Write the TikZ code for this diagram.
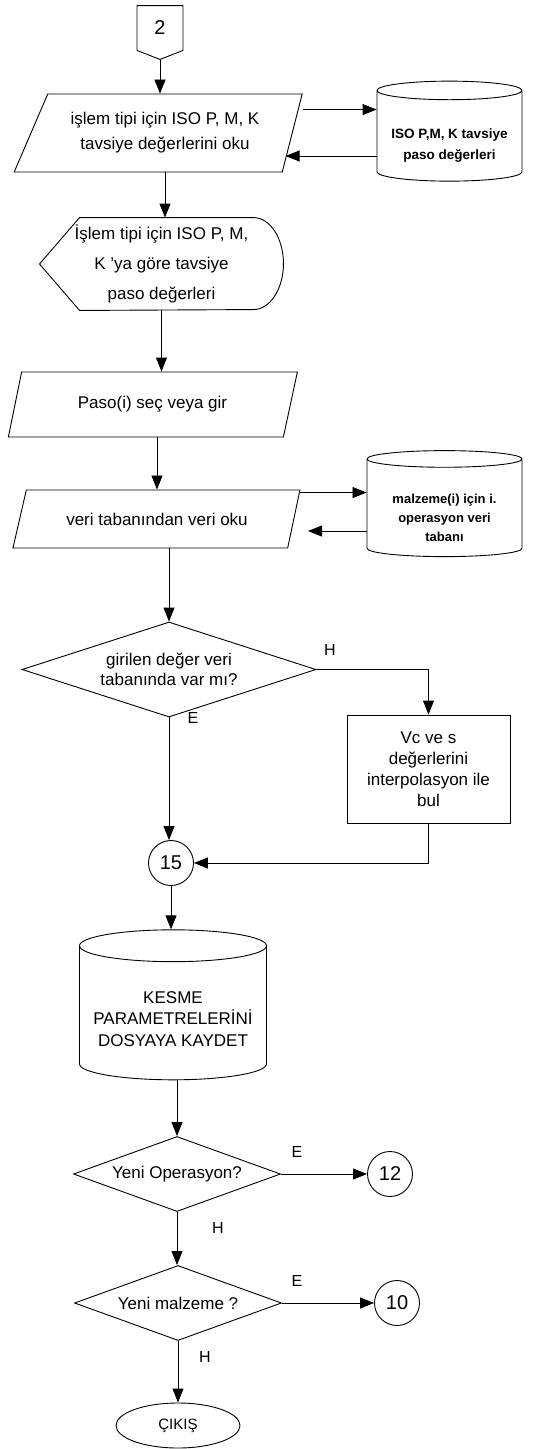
\documentclass[tikz,border=0pt]{standalone}
\usepackage{fontspec}
\setmainfont{Liberation Sans}
\usetikzlibrary{arrows.meta}
\usetikzlibrary{shapes.geometric}
\usetikzlibrary{shapes.symbols}
\tikzset{
	>={Triangle[length=14pt,width=11pt]},
	flow/.style={draw, inner sep=0pt, align=center, font=\fontsize{17}{21}\selectfont},
	io/.style={flow, trapezium, trapezium stretches body=true},
	db/.style={flow, cylinder, shape border rotate=90, font=\fontsize{13.5}{21}\selectfont\bfseries},
	decision/.style={flow, diamond},
	conn/.style={flow, circle, minimum size=45pt, font=\fontsize{20}{24}\selectfont},
	lbl/.style={font=\fontsize{16}{18}\selectfont}
}
% metni silindir govdesinde asagi kaydirir
\newcommand{\lowtext}[2]{\raisebox{#1}[0pt][0pt]{\begin{tabular}{@{}c@{}}#2\end{tabular}}}

\begin{document}
\begin{tikzpicture}[x=1pt, y=-1pt, line width=0.9pt]
	\useasboundingbox (0,0) rectangle (534,1449);

	% giris baglantisi
	\node[flow, signal, signal to=south, signal pointer angle=137, minimum width=46pt, minimum height=47pt, font=\fontsize{20}{24}\selectfont] (c2) at (160,28) {2};

	\node[io, trapezium left angle=50.6, trapezium right angle=116, minimum width=288pt, minimum height=78pt, font=\fontsize{17}{25}\selectfont] (p1) at (165,133) {işlem tipi için ISO P, M, K\\tavsiye değerlerini oku};
	\node[db, aspect=0.16, minimum width=145pt, minimum height=100pt] (cyl1) at (449.5,136) {\lowtext{-12.5pt}{ISO P,M, K tavsiye\\paso değerleri}};

	% ekran sekli
	\node[inner sep=0pt, minimum width=243pt, minimum height=92pt, align=center, font=\fontsize{17}{30}\selectfont] (disp) at (161.5,264) {İşlem tipi için ISO P, M,\\K 'ya göre tavsiye\\paso değerleri};
	\draw (disp.west) -- ([xshift=40pt]disp.north west) -- ([xshift=-30pt]disp.north east)
		arc[start angle=90, end angle=-90, x radius=30pt, y radius=46pt]
		-- ([xshift=40pt]disp.south west) -- cycle;

	\node[io, trapezium left angle=50.3, trapezium right angle=131.3, minimum width=289pt, minimum height=65pt] (p2) at (152.5,404.5) {Paso(i) seç veya gir};

	\node[io, trapezium left angle=43, trapezium right angle=134.5, minimum width=287pt, minimum height=58pt] (p3) at (157,519) {veri tabanından veri oku};
	\node[db, aspect=0.16, minimum width=155pt, minimum height=106pt, font=\fontsize{13}{19}\selectfont\bfseries] (cyl2) at (444.5,508) {\lowtext{-14pt}{malzeme(i) için i.\\operasyon veri\\tabanı}};

	\node[decision, aspect=3.1, minimum width=294pt, minimum height=95pt, font=\fontsize{17}{20}\selectfont] (d1) at (169,669.5) {girilen değer veri\\tabanında var mı?};
	\node[flow, rectangle, minimum width=163pt, minimum height=108pt] (box) at (428.5,769) {Vc ve s\\değerlerini\\interpolasyon ile\\bul};
	\node[conn] (c15) at (171,863) {15};

	\node[db, aspect=0.2, minimum width=187pt, minimum height=150pt, font=\fontsize{17}{21.5}\selectfont] (cyl3) at (173,1013) {\lowtext{-12pt}{KESME\\PARAMETRELERİNİ\\DOSYAYA KAYDET}};

	\node[decision, aspect=2.76, minimum width=207pt, minimum height=75pt] (d2) at (177,1174) {Yeni Operasyon?};
	\node[conn] (c12) at (390,1174) {12};
	\node[decision, aspect=2.76, minimum width=207pt, minimum height=75pt] (d3) at (178,1303) {Yeni malzeme ?};
	\node[conn] (c10) at (397,1303) {10};
	\node[flow, ellipse, minimum width=124pt, minimum height=45pt, font=\fontsize{15}{18}\selectfont] (exit) at (178,1425.5) {ÇIKIŞ};

	% baglantilar
	\draw[->] (c2.south) -- (c2.south |- p1.north);
	\draw[->] (p1.south) -- (p1.south |- disp.north);
	\draw[->] (disp.south) -- (disp.south |- p2.north);
	\draw[->] (p3.north |- p2.south) -- (p3.north);
	\draw[->] (d1.north |- p3.south) -- (d1.north);

	\coordinate (q1) at ([yshift=-16pt]p1.top right corner);
	\coordinate (q2) at ([yshift=-20pt]cyl1.west);
	\coordinate (p1r) at ([xshift=3pt]p1.bottom right corner);
	\draw[->] (q1) -- (q1 -| cyl1.west);
	\draw[->] (q2) -- (q2 -| p1r);
	\coordinate (q3) at ([yshift=-3pt]p3.top right corner);
	\coordinate (q4) at ([yshift=-23pt]cyl2.west);
	\coordinate (p3r) at ([xshift=20pt]p3.bottom right corner);
	\draw[->] (q3) -- (q3 -| cyl2.west);
	\draw[->] (q4) -- (q4 -| p3r);

	\draw[->] (d1.east) -| (box.north);
	\draw[->] (d1.south) -- (d1.south |- c15.north);
	\draw[->] (box.south) |- (c15.east);
	\draw[->] (c15.south) -- (c15.south |- cyl3.north);
	\draw[->] (d2.north |- cyl3.south) -- (d2.north);
	\draw[->] (d2.east) -- (c12.west);
	\draw[->] (d2.south) -- (d2.south |- d3.north);
	\draw[->] (d3.east) -- (c10.west);
	\draw[->] (d3.south) -- (d3.south |- exit.north);

	% E / H etiketleri
	\node[lbl] (h1) at (330,650) {H};
	\node[lbl] (e1) at (193,718) {E};
	\node[lbl] (e2) at (297,1152) {E};
	\node[lbl] (h2) at (218,1228) {H};
	\node[lbl] (e3) at (297,1281) {E};
	\node[lbl] (h3) at (205,1357) {H};
\end{tikzpicture}
\end{document}
